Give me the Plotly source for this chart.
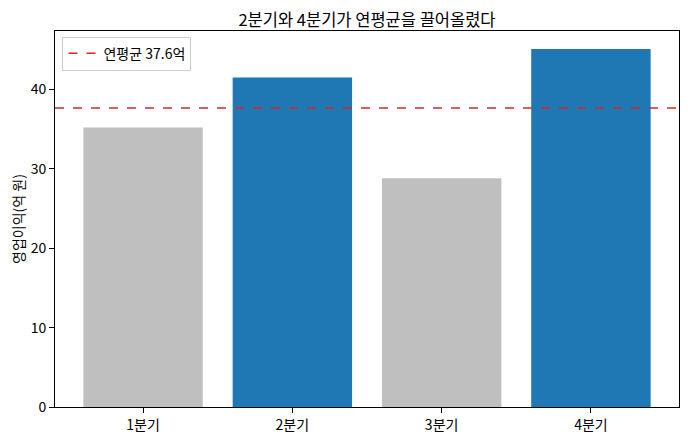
import plotly.graph_objects as go

quarters = ["1분기", "2분기", "3분기", "4분기"]
profit = [35.2, 41.5, 28.8, 45.1]
highlight = ["2분기", "4분기"]

avg = sum(profit) / len(profit)
colors = ["#1f77b4" if q in highlight else "#bfbfbf" for q in quarters]
font = "Noto Sans CJK KR, Malgun Gothic, sans-serif"

# the page body adds an 8px margin, so the figure is 8px smaller than the window
W, H = 682, 432

fig = go.Figure()
fig.add_trace(go.Bar(x=quarters, y=profit, marker_color=colors, marker_line_width=0,
                     width=0.8, showlegend=False, hoverinfo="x+y"))
fig.add_hline(y=avg, line=dict(color="#d62728", width=1.5, dash="dash"),
              name=f"연평균 {avg:.1f}억", showlegend=True)

axis_style = dict(showline=True, linecolor="black", linewidth=1, mirror=True,
                  ticks="outside", ticklen=5, tickcolor="black", showgrid=False,
                  zeroline=False, automargin=False,
                  tickfont=dict(size=14, color="black"))

fig.update_layout(
    width=W, height=H,
    margin=dict(l=47, r=11, t=23, b=33, autoexpand=False),
    paper_bgcolor="white", plot_bgcolor="white",
    font=dict(family=font, color="black"),
    title=dict(text="2분기와 4분기가 연평균을 끌어올렸다", x=(47 + 671) / 2 / W,
               xanchor="center", y=1 - 12 / H, yanchor="middle", font=dict(size=16.5)),
    legend=dict(x=0.012, y=0.985, xanchor="left", yanchor="top",
                bordercolor="#cccccc", borderwidth=1, bgcolor="rgba(255,255,255,0.8)",
                font=dict(size=14)),
    bargap=0.2,
)
fig.update_xaxes(**axis_style, range=[-0.59, 3.59])
fig.update_yaxes(**axis_style, range=[0, 47.355], tickvals=[0, 10, 20, 30, 40],
                 title=dict(text="영업이익(억 원)", font=dict(size=14), standoff=2))

fig.write_html("out.html")
